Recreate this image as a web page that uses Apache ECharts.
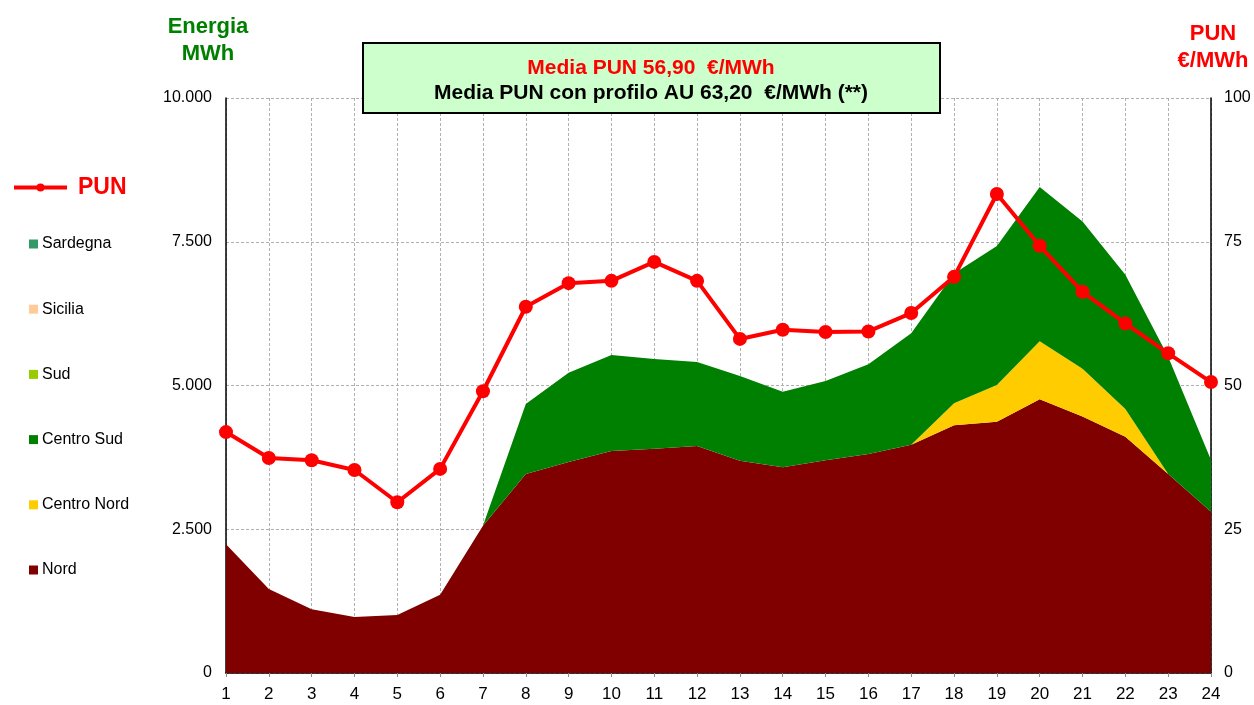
<!DOCTYPE html>
<html>
<head>
<meta charset="utf-8">
<script src="https://cdn.jsdelivr.net/npm/echarts@6/dist/echarts.min.js"></script>
<style>
html,body{margin:0;padding:0;background:#fff;}
#chart{width:1254px;height:705px;}
</style>
</head>
<body>
<div id="chart"></div>
<script>
var hours = ['1','2','3','4','5','6','7','8','9','10','11','12','13','14','15','16','17','18','19','20','21','22','23','24'];
var nord = [2240,1460,1110,975,1010,1360,2560,3460,3670,3860,3900,3950,3690,3580,3700,3810,3970,4310,4370,4760,4460,4110,3460,2805];
var centroNord = [0,0,0,0,0,0,0,0,0,0,0,0,0,0,0,0,0,380,640,1010,830,480,0,0];
var centroSud = [0,0,0,0,0,0,0,1220,1550,1670,1560,1460,1475,1310,1380,1560,1937,2260,2416,2683,2563,2336,2040,900];
var sud = [0,0,0,0,0,0,0,0,0,0,0,0,0,0,0,0,0,0,0,0,0,0,0,0];
var sicilia = [0,0,0,0,0,0,0,0,0,0,0,0,0,0,0,0,0,0,0,0,0,0,0,0];
var sardegna = [0,0,0,0,0,0,0,0,0,0,0,0,0,0,0,0,0,0,0,0,0,0,0,0];
var pun = [41.9,37.4,37.0,35.3,29.7,35.5,49.0,63.7,67.8,68.2,71.5,68.2,58.1,59.7,59.3,59.4,62.6,68.9,83.3,74.3,66.3,60.8,55.6,50.6];
var energyTicks = {0:'0',2500:'2.500',5000:'5.000',7500:'7.500',10000:'10.000'};

var FONT = 'Liberation Sans, Arial, sans-serif';
function area(name, data, color){
  return {
    name: name, type: 'line', stack: 'e', data: data,
    showSymbol: false, symbol: 'none',
    lineStyle: {width: 0},
    areaStyle: {color: color, opacity: 1},
    itemStyle: {color: color},
    emphasis: {disabled: true},
    z: 2
  };
}
var chart = echarts.init(document.getElementById('chart'));
chart.setOption({
  animation: false,
  textStyle: {fontFamily: FONT},
  grid: {left: 226, right: 43, top: 98, bottom: 32},
  legend: [
    {
      data: [{name: 'PUN'}],
      left: 12, top: 176, padding: 0,
      itemWidth: 53, itemHeight: 10, itemGap: 10,
      lineStyle: {width: 4},
      textStyle: {color: '#ff0000', fontSize: 23, fontWeight: 'bold', fontFamily: FONT, padding: [0,0,0,6]},
      selectedMode: false
    },
    {
      data: ['Sardegna','Sicilia','Sud','Centro Sud','Centro Nord','Nord'],
      orient: 'vertical',
      left: 29, top: 236, padding: 0,
      itemWidth: 9, itemHeight: 9, itemGap: 49.2,
      icon: 'rect',
      textStyle: {color: '#000', fontSize: 16, fontFamily: FONT, padding: [0,0,0,-1]},
      selectedMode: false
    }
  ],
  xAxis: {
    type: 'category', data: hours, boundaryGap: false,
    axisLine: {lineStyle: {color: '#000', width: 1.5}},
    axisTick: {show: true, length: 4, lineStyle: {color: '#888'}, alignWithLabel: true},
    axisLabel: {color: '#000', fontSize: 17, margin: 13, fontFamily: FONT},
    splitLine: {show: true, lineStyle: {color: '#b0b0b0', type: [3,2], width: 1}}
  },
  yAxis: [
    {
      type: 'value', min: 0, max: 10000, interval: 2500,
      axisLine: {show: true, lineStyle: {color: '#000', width: 1.5}},
      axisTick: {show: false},
      axisLabel: {color: '#000', fontSize: 16, margin: 14, fontFamily: FONT,
        formatter: function(v){ return energyTicks[v] !== undefined ? energyTicks[v] : v; }},
      splitLine: {show: true, lineStyle: {color: '#b0b0b0', type: [3,2], width: 1}}
    },
    {
      type: 'value', min: 0, max: 100, interval: 25, position: 'right',
      axisLine: {show: true, lineStyle: {color: '#000', width: 1.5}},
      axisTick: {show: false},
      axisLabel: {color: '#000', fontSize: 16, margin: 13, fontFamily: FONT},
      splitLine: {show: false}
    }
  ],
  series: [
    area('Nord', nord, '#800000'),
    area('Centro Nord', centroNord, '#ffcc00'),
    area('Centro Sud', centroSud, '#008000'),
    area('Sud', sud, '#99cc00'),
    area('Sicilia', sicilia, '#ffcc99'),
    area('Sardegna', sardegna, '#339966'),
    {
      name: 'PUN', type: 'line', yAxisIndex: 1, data: pun,
      symbol: 'circle', symbolSize: 14, showSymbol: true,
      lineStyle: {color: '#ff0000', width: 4},
      itemStyle: {color: '#ff0000'},
      emphasis: {disabled: true},
      z: 5
    }
  ],
  graphic: [
    {type: 'text', x: 208, y: 40.5, z: 50,
      style: {text: 'Energia\nMWh', fill: '#008000', font: 'bold 22px ' + FONT, textAlign: 'center', textVerticalAlign: 'middle', lineHeight: 27}},
    {type: 'text', x: 1213, y: 47, z: 50,
      style: {text: 'PUN\n€/MWh', fill: '#ff0000', font: 'bold 22px ' + FONT, textAlign: 'center', textVerticalAlign: 'middle', lineHeight: 27}},
    {type: 'rect', z: 50, shape: {x: 363, y: 43, width: 577, height: 70},
      style: {fill: '#ccffcc', stroke: '#000', lineWidth: 2}},
    {type: 'text', z: 51, x: 651, y: 68,
      style: {text: 'Media PUN 56,90  €/MWh', fill: '#ff0000', font: 'bold 21px ' + FONT, textAlign: 'center', textVerticalAlign: 'middle'}},
    {type: 'text', z: 51, x: 651, y: 93,
      style: {text: 'Media PUN con profilo AU 63,20  €/MWh (**)', fill: '#000', font: 'bold 21px ' + FONT, textAlign: 'center', textVerticalAlign: 'middle'}}
  ]
});
</script>
</body>
</html>
